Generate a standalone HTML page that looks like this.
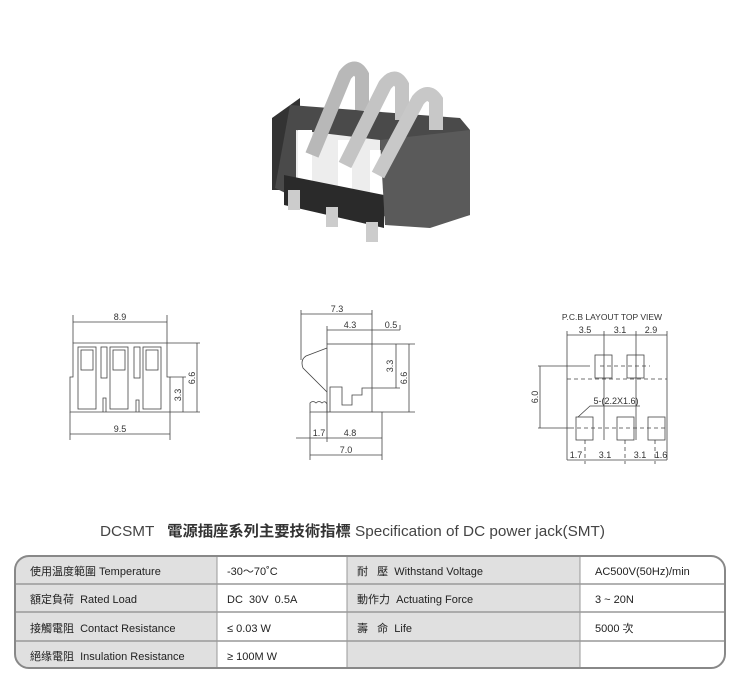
<!DOCTYPE html>
<html><head><meta charset="utf-8"><style>
body{margin:0;background:#fff;}
.w{position:relative;width:740px;height:700px;overflow:hidden;font-family:"Liberation Sans","Noto Sans CJK TC",sans-serif;}
svg text{font-family:"Liberation Sans","Noto Sans CJK TC",sans-serif;}
</style></head><body><div class="w">
<svg width="740" height="700" viewBox="0 0 740 700" xmlns="http://www.w3.org/2000/svg">
<!-- Photo -->
<g>
 <polygon points="272,118 300,98 300,190 272,190" fill="#333"/>
 <polygon points="290,105 460,118 470,130 470,215 430,225 300,200 275,188" fill="#4a4a4a"/>
 <polygon points="296,130 380,140 380,215 296,195" fill="#ededed"/>
 <rect x="298" y="130" width="14" height="60" fill="#fff"/>
 <rect x="338" y="140" width="14" height="60" fill="#fff"/>
 <rect x="370" y="150" width="14" height="55" fill="#fff"/>
 <polygon points="284,175 384,195 384,228 284,205" fill="#2a2a2a"/>
 <polygon points="380,140 470,130 470,215 430,228 385,225" fill="#5a5a5a"/>
 <path d="M312,155 L345,75 Q355,62 362,75 L362,110" stroke="#b8b8b8" stroke-width="14" fill="none"/>
 <path d="M345,165 L385,85 Q395,72 402,85 L402,120" stroke="#c4c4c4" stroke-width="14" fill="none"/>
 <path d="M378,175 L418,100 Q428,88 436,100 L436,130" stroke="#c8c8c8" stroke-width="14" fill="none"/>
 <rect x="288" y="190" width="12" height="20" fill="#ccc"/>
 <rect x="326" y="207" width="12" height="20" fill="#ccc"/>
 <rect x="366" y="222" width="12" height="20" fill="#ccc"/>
</g>
<g stroke="#444" stroke-width="0.8" fill="none">
 <!-- front view -->
 <path d="M73,343 H167 V377 H170 V412 H70 V377 H73 Z"/>
 <rect x="78" y="347" width="18" height="62"/><rect x="110" y="347" width="18" height="62"/><rect x="143" y="347" width="18" height="62"/>
 <rect x="81" y="350" width="12" height="20"/><rect x="113" y="350" width="12" height="20"/><rect x="146" y="350" width="12" height="20"/>
 <rect x="101" y="347" width="6" height="31"/><rect x="134" y="347" width="6" height="31"/>
 <path d="M103,412 V398 H106 V412 M136,412 V400 H139 V412"/>
 <path d="M73,343 V315 M167,343 V315 M70,412 V440 M170,412 V440 M167,343 H200 M170,377 H186 M170,412 H200"/>
 <path d="M73,322 H167 M70,434 H170 M183,377 V412 M197,343 V412"/>
 <!-- side view -->
 <rect x="327" y="344" width="45" height="68"/>
 <path d="M330,412 V387 H342 V405 H352 V395 H362 V388 H372"/>
 <path d="M327,348 L306,356 Q300,360 303,368 L327,392"/>
 <path d="M310,412 V403 Q313,400 316,403 Q319,400 322,403 Q325,400 327,404 V412 Z"/>
 <path d="M372,412 H384"/>
 <path d="M301,360 V310 M372,344 V310 M327,344 V326 M400,330 V325 M372,344 H415 M372,388 H400 M384,412 H415 M310,412 V460 M327,412 V442 M382,412 V460"/>
 <path d="M301,314 H372 M327,330 H400 M396,344 V388 M409,344 V412 M296,438 H382 M310,455 H382"/>
 <!-- pcb -->
 <path d="M567,335 H667 M567,331 V460 M667,331 V460 M604,331 V440 M636,331 V440 M538,366 H590 M540,366 V428 M538,428 H570 M567,460 H667"/>
 <path d="M567,379 H667 M570,428 H667 M600,366 H650 M585,440 V464 M625,440 V464 M655,440 V464" stroke-dasharray="4,3"/>
 <rect x="595" y="355" width="17" height="23"/><rect x="627" y="355" width="17" height="23"/>
 <rect x="576" y="417" width="17" height="23"/><rect x="617" y="417" width="17" height="23"/><rect x="648" y="417" width="17" height="23"/>
 <path d="M578,417 L590,406 H640"/>
</g>
<g font-size="9" fill="#333" text-anchor="middle">
 <text x="120" y="320">8.9</text><text x="120" y="432">9.5</text>
 <text transform="translate(181,395) rotate(-90)">3.3</text><text transform="translate(195,378) rotate(-90)">6.6</text>
 <text x="337" y="312">7.3</text><text x="350" y="328">4.3</text><text x="391" y="328">0.5</text>
 <text transform="translate(393,366) rotate(-90)">3.3</text><text transform="translate(407,378) rotate(-90)">6.6</text>
 <text x="319" y="436">1.7</text><text x="350" y="436">4.8</text><text x="346" y="453">7.0</text>
 <text x="612" y="320" font-size="8.5">P.C.B LAYOUT TOP VIEW</text>
 <text x="585" y="333">3.5</text><text x="620" y="333">3.1</text><text x="651" y="333">2.9</text>
 <text transform="translate(538,397) rotate(-90)">6.0</text>
 <text x="616" y="404">5-(2.2X1.6)</text>
 <text x="576" y="458">1.7</text><text x="605" y="458">3.1</text><text x="640" y="458">3.1</text><text x="661" y="458">1.6</text>
</g>
<!-- title -->
<text x="100" y="536" font-size="15" fill="#444" textLength="505" lengthAdjust="spacingAndGlyphs">DCSMT&#160;&#160;&#160;<tspan font-weight="bold" fill="#333">電源插座系列主要技術指標</tspan> Specification of DC power jack(SMT)</text>
<!-- table -->
<defs><clipPath id="c"><rect x="15" y="556" width="710" height="112" rx="14"/></clipPath></defs>
<g clip-path="url(#c)">
 <rect x="15" y="556" width="710" height="112" fill="#fff"/>
 <rect x="15" y="556" width="202" height="112" fill="#e0e0e0"/>
 <rect x="347" y="556" width="233" height="112" fill="#e0e0e0"/>
 <path d="M15,584 H725 M15,612 H725 M15,641 H725" stroke="#999" stroke-width="1.5"/>
 <path d="M217,556 V668 M347,556 V668 M580,556 V668" stroke="#999" stroke-width="1"/>
</g>
<rect x="15" y="556" width="710" height="112" rx="14" fill="none" stroke="#888" stroke-width="2"/>
<g font-size="11" fill="#222" xml:space="preserve">
 <text x="30" y="575">使用温度範圍 Temperature</text>
 <text x="30" y="603">額定負荷&#160;&#160;Rated Load</text>
 <text x="30" y="632">接觸電阻&#160;&#160;Contact Resistance</text>
 <text x="30" y="660">絕缘電阻&#160;&#160;Insulation Resistance</text>
 <text x="227" y="575">-30～70˚C</text>
 <text x="227" y="603">DC&#160;&#160;30V&#160;&#160;0.5A</text>
 <text x="227" y="632">≤ 0.03 W</text>
 <text x="227" y="660">≥ 100M W</text>
 <text x="357" y="575">耐&#160;&#160;&#160;壓&#160;&#160;Withstand Voltage</text>
 <text x="357" y="603">動作力&#160;&#160;Actuating Force</text>
 <text x="357" y="632">壽&#160;&#160;&#160;命&#160;&#160;Life</text>
 <text x="595" y="575">AC500V(50Hz)/min</text>
 <text x="595" y="603">3 ~ 20N</text>
 <text x="595" y="632">5000 次</text>
</g>
</svg>
</div></body></html>
